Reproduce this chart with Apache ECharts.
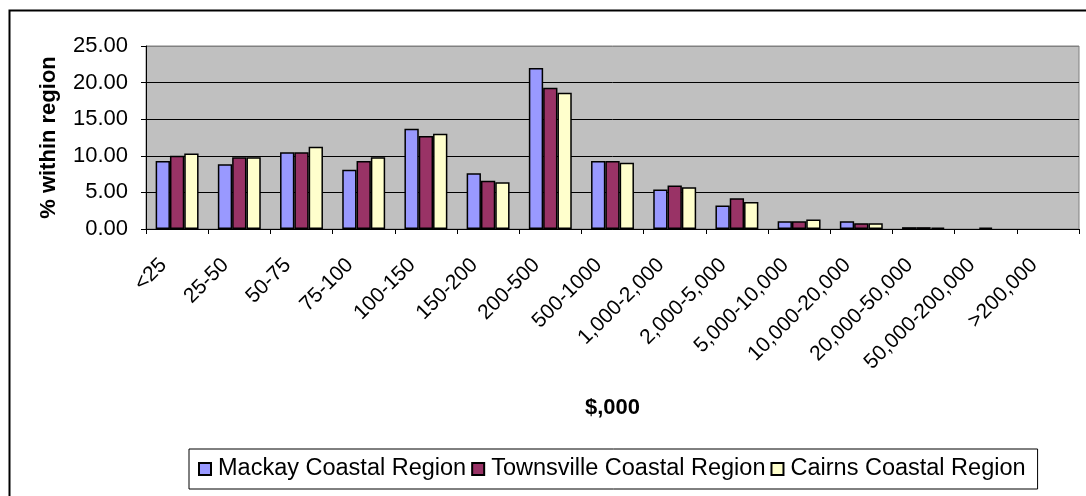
<!DOCTYPE html>
<html>
<head>
<meta charset="utf-8">
<script src="https://cdn.jsdelivr.net/npm/echarts@6/dist/echarts.min.js"></script>
<style>
html,body{margin:0;padding:0;background:#fff;}
#c{width:1086px;height:496px;}
</style>
</head>
<body>
<div id="c"></div>
<script>
var categories = ['<25','25-50','50-75','75-100','100-150','150-200','200-500','500-1000','1,000-2,000','2,000-5,000','5,000-10,000','10,000-20,000','20,000-50,000','50,000-200,000','>200,000'];
var mackay     = [9.3, 8.85, 10.5, 8.1, 13.7, 7.6, 22.0, 9.3, 5.4, 3.2, 1.05, 1.05, 0.25, 0, 0];
var townsville = [10.0, 9.8, 10.5, 9.3, 12.7, 6.6, 19.3, 9.3, 5.95, 4.2, 1.05, 0.8, 0.25, 0.2, 0];
var cairns     = [10.3, 9.8, 11.25, 9.8, 13.0, 6.4, 18.6, 9.05, 5.7, 3.7, 1.3, 0.8, 0.2, 0, 0];
var seriesNames = ['Mackay Coastal Region', 'Townsville Coastal Region', 'Cairns Coastal Region'];
var seriesColors = ['#9999FF', '#993366', '#FFFFCC'];
var yTicks = [0, 5, 10, 15, 20, 25];

var FONT = '"Liberation Sans", Arial, sans-serif';
var chart = echarts.init(document.getElementById('c'), null, {renderer: 'canvas'});
var seriesData = [mackay, townsville, cairns];
var series = seriesData.map(function (d, i) {
  return {
    name: seriesNames[i],
    type: 'bar',
    data: d.map(function (v) {
      return v === 0 ? {value: v, itemStyle: {borderWidth: 0}} : v;
    }),
    barGap: '0%',
    barCategoryGap: '31%',
    itemStyle: {color: seriesColors[i], borderColor: '#000', borderWidth: 1.5},
    emphasis: {disabled: true},
    animation: false
  };
});
chart.setOption({
  animation: false,
  textStyle: {fontFamily: FONT},
  graphic: [{
    type: 'rect', left: 7, top: 8, z: -10,
    shape: {width: 1100, height: 520},
    style: {fill: 'none', stroke: '#000', lineWidth: 2}
  }],
  grid: {
    left: 146, right: 7, top: 46, bottom: 267,
    show: true, backgroundColor: '#C0C0C0', borderColor: '#808080', borderWidth: 1
  },
  legend: {
    data: seriesNames,
    left: 189, top: 449,
    orient: 'horizontal',
    icon: 'rect',
    itemWidth: 12, itemHeight: 12, itemGap: 5,
    padding: [8, 12, 8, 9],
    borderColor: '#000', borderWidth: 1,
    textStyle: {fontFamily: FONT, fontSize: 23.5, color: '#000', padding: [0, 0, 0, 2]}
  },
  xAxis: {
    type: 'category',
    data: categories,
    name: '$,000',
    nameLocation: 'middle',
    nameGap: 168,
    nameTextStyle: {fontFamily: FONT, fontSize: 22, fontWeight: 'bold', color: '#000'},
    axisLine: {show: true, lineStyle: {color: '#000', width: 1}},
    axisTick: {show: true, length: 5, lineStyle: {color: '#000'}},
    axisLabel: {rotate: 45, margin: 34, fontFamily: FONT, fontSize: 21, color: '#000', interval: 0,
      align: 'right', verticalAlign: 'bottom', padding: [0, 9, 0, 0]},
    splitLine: {show: false}
  },
  yAxis: {
    type: 'value',
    min: yTicks[0], max: yTicks[yTicks.length - 1], interval: 5,
    name: '% within region',
    nameLocation: 'middle',
    nameGap: 86,
    nameTextStyle: {fontFamily: FONT, fontSize: 22, fontWeight: 'bold', color: '#000'},
    axisLine: {show: true, lineStyle: {color: '#000', width: 1}},
    axisTick: {show: true, length: 5, lineStyle: {color: '#000'}},
    axisLabel: {margin: 18, fontFamily: FONT, fontSize: 22, color: '#000',
      formatter: function (v) { return v.toFixed(2); }},
    splitLine: {show: true, lineStyle: {color: ['#000', '#000', '#000', '#000', '#000', '#808080'], width: 1}}
  },
  series: series
});
</script>
</body>
</html>
